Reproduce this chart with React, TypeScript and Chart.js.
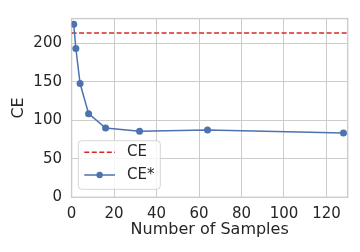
import React, { useEffect, useRef } from "react";
import { Chart, registerables } from "chart.js";

Chart.register(...registerables);

const samples = [1, 2, 4, 8, 16, 32, 64, 128];
const ceStar = [224.9, 193.3, 147.8, 108.7, 90.1, 85.9, 87.6, 83.4];
const ceBaseline = 213.5;
const xLimits = [0, 130];
const yLimits = [0, 232.2];
const xTicks = [0, 20, 40, 60, 80, 100, 120];
const yTicks = [0, 50, 100, 150, 200];
const seriesLabels = ["CE", "CE*"];
const xTitle = "Number of Samples";
const yTitle = "CE";

const BLUE = "#4c72b0";
const RED = "#d62728";
const GRID = "#cccccc";
const TEXT = "#262626";
const FONT = "'DejaVu Sans', sans-serif";

const framePlugin = {
  id: "frame",
  beforeDatasetsDraw(chart: any) {
    const { ctx, chartArea } = chart;
    ctx.save();
    ctx.strokeStyle = GRID;
    ctx.lineWidth = 1.4;
    ctx.strokeRect(chartArea.left, chartArea.top, chartArea.right - chartArea.left, chartArea.bottom - chartArea.top);
    ctx.restore();
  },
};

const legendPlugin = {
  id: "customLegend",
  afterDraw(chart: any) {
    const { ctx, chartArea } = chart;
    const w = 82;
    const h = 48.6;
    const x0 = chartArea.left + 6.7;
    const y0 = chartArea.bottom - 8 - h;
    ctx.save();
    const r = 3.5;
    ctx.beginPath();
    ctx.moveTo(x0 + r, y0);
    ctx.lineTo(x0 + w - r, y0);
    ctx.quadraticCurveTo(x0 + w, y0, x0 + w, y0 + r);
    ctx.lineTo(x0 + w, y0 + h - r);
    ctx.quadraticCurveTo(x0 + w, y0 + h, x0 + w - r, y0 + h);
    ctx.lineTo(x0 + r, y0 + h);
    ctx.quadraticCurveTo(x0, y0 + h, x0, y0 + h - r);
    ctx.lineTo(x0, y0 + r);
    ctx.quadraticCurveTo(x0, y0, x0 + r, y0);
    ctx.closePath();
    ctx.fillStyle = "rgba(255,255,255,0.8)";
    ctx.fill();
    ctx.strokeStyle = "rgba(204,204,204,0.8)";
    ctx.lineWidth = 1;
    ctx.stroke();

    const rows = [y0 + 11.6, y0 + 34.3];
    const lx1 = x0 + 6;
    const lx2 = x0 + 36.7;
    ctx.beginPath();
    ctx.setLineDash([5, 2.5]);
    ctx.strokeStyle = RED;
    ctx.lineWidth = 1.5;
    ctx.moveTo(lx1, rows[0]);
    ctx.lineTo(lx2, rows[0]);
    ctx.stroke();
    ctx.setLineDash([]);
    ctx.beginPath();
    ctx.strokeStyle = BLUE;
    ctx.moveTo(lx1, rows[1]);
    ctx.lineTo(lx2, rows[1]);
    ctx.stroke();
    ctx.beginPath();
    ctx.fillStyle = BLUE;
    ctx.arc((lx1 + lx2) / 2, rows[1], 3.2, 0, Math.PI * 2);
    ctx.fill();

    ctx.fillStyle = TEXT;
    ctx.font = `15px ${FONT}`;
    ctx.textBaseline = "middle";
    ctx.textAlign = "left";
    ctx.fillText(seriesLabels[0], x0 + 48.7, rows[0]);
    ctx.fillText(seriesLabels[1], x0 + 48.7, rows[1]);
    ctx.restore();
  },
};

export default function App() {
  const ref = useRef<HTMLCanvasElement | null>(null);
  useEffect(() => {
    if (!ref.current) return;
    const chart = new Chart(ref.current, {
      type: "line",
      data: {
        datasets: [
          {
            label: seriesLabels[1],
            data: samples.map((s, i) => ({ x: s, y: ceStar[i] })),
            borderColor: BLUE,
            backgroundColor: BLUE,
            borderWidth: 1.5,
            pointRadius: 3.5,
            pointBorderWidth: 0,
            pointBackgroundColor: BLUE,
            tension: 0,
          },
          {
            label: seriesLabels[0],
            data: xLimits.map((x) => ({ x, y: ceBaseline })),
            borderColor: RED,
            borderWidth: 1.5,
            borderDash: [5, 2.5],
            pointRadius: 0,
            tension: 0,
          },
        ],
      },
      plugins: [framePlugin, legendPlugin],
      options: {
        animation: false,
        responsive: false,
        maintainAspectRatio: false,
        events: [],
        layout: { padding: { left: 0, right: 12.3, top: 13.5, bottom: 0 } },
        plugins: { legend: { display: false }, tooltip: { enabled: false } },
        scales: {
          x: {
            type: "linear",
            min: xLimits[0],
            max: xLimits[1],
            afterBuildTicks: (scale: any) => {
              scale.ticks = xTicks.map((v) => ({ value: v }));
            },
            afterFit: (scale: any) => {
              scale.height = 54.7;
            },
            ticks: {
              color: TEXT,
              font: { family: FONT, size: 15 },
              padding: 7.5,
              maxRotation: 0,
              autoSkip: false,
            },
            grid: { color: GRID, lineWidth: 1, drawTicks: false },
            border: { display: false },
            title: {
              display: true,
              text: xTitle,
              color: TEXT,
              font: { family: FONT, size: 16 },
              padding: { top: 0, bottom: 12.2 },
            },
          },
          y: {
            type: "linear",
            min: yLimits[0],
            max: yLimits[1],
            afterBuildTicks: (scale: any) => {
              scale.ticks = yTicks.map((v) => ({ value: v }));
            },
            afterFit: (scale: any) => {
              scale.width = 71.6;
            },
            ticks: {
              color: TEXT,
              font: { family: FONT, size: 15 },
              padding: 9.6,
              autoSkip: false,
            },
            grid: { color: GRID, lineWidth: 1, drawTicks: false },
            border: { display: false },
            title: {
              display: true,
              text: yTitle,
              color: TEXT,
              font: { family: FONT, size: 16 },
              padding: { top: 9.1, bottom: 0 },
            },
          },
        },
      },
    });
    return () => chart.destroy();
  }, []);
  return (
    <div style={{ position: "absolute", left: 0, top: 0, width: 360, height: 252, background: "#fff" }}>
      <canvas ref={ref} width={360} height={252} style={{ display: "block", width: 360, height: 252 }} />
    </div>
  );
}
